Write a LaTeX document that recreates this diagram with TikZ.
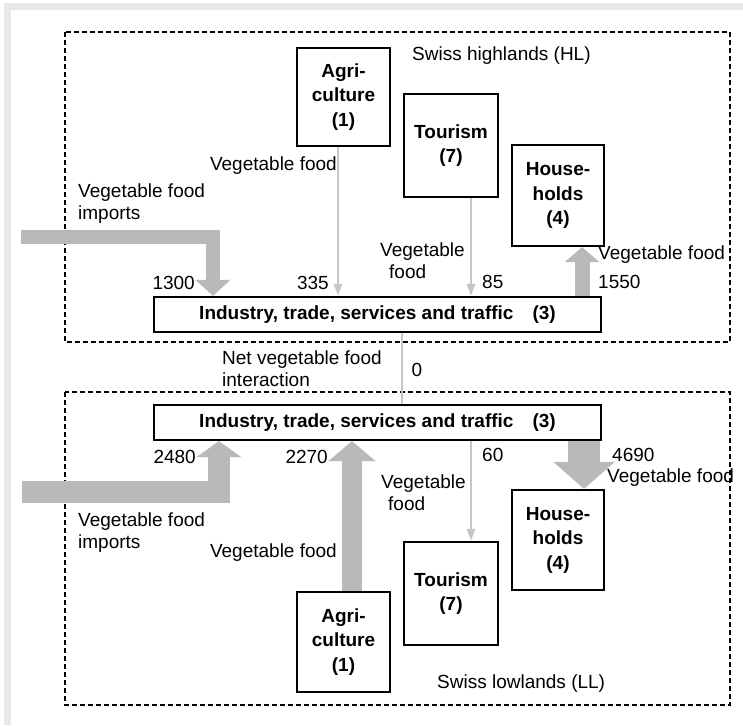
\documentclass[tikz,border=0pt]{standalone}
\usepackage{fontspec}
\setmainfont{Liberation Sans}
\usetikzlibrary{arrows.meta,calc}
\begin{document}
\begin{tikzpicture}[x=1pt,y=-1pt,
  box/.style={draw, line width=2.2pt, fill=white, align=center, inner sep=0pt,
    font=\bfseries\fontsize{19}{24.5}\selectfont},
  lbl/.style={inner sep=0pt, align=left, font=\fontsize{19}{22}\selectfont},
  region/.style={draw, line width=1.2pt, dash pattern=on 5pt off 3pt},
  flowline/.style={draw=gray!45, line width=2.5pt, -{Triangle[width=8pt,length=12pt]}},
  fat/.style n args={3}{draw=gray!55, line width=#1, line join=miter,
    -{Triangle[width=#2,length=#3]}}]
\useasboundingbox (0,0) rectangle (743,725);
\fill[white] (0,0) rectangle (743,725);
\fill[gray!18] (4,3) rectangle (743,10);
\fill[gray!18] (4,3) rectangle (11,725);

% regions
\draw[region] (65,32) rectangle (730,342);
\draw[region] (65,392) rectangle (730,705);

% highlands boxes
\node[box, minimum width=93pt, minimum height=98pt] (agriH) at (343.5,97) {Agri-\\culture\\(1)};
\node[box, minimum width=94pt, minimum height=103pt] (tourH) at (451,145.5) {Tourism\\(7)};
\node[box, minimum width=92pt, minimum height=101pt] (houseH) at (558,195.5) {House-\\holds\\(4)};
\node[box, minimum width=447pt, minimum height=35pt] (indH) at (377.5,314.5) {Industry, trade, services and traffic\hspace{1em}(3)};

% lowlands boxes
\node[box, minimum width=447pt, minimum height=35pt] (indL) at (377.5,422.5) {Industry, trade, services and traffic\hspace{1em}(3)};
\node[box, minimum width=92pt, minimum height=100pt] (houseL) at (558,540) {House-\\holds\\(4)};
\node[box, minimum width=94pt, minimum height=103pt] (tourL) at (451,593.5) {Tourism\\(7)};
\node[box, minimum width=93pt, minimum height=100pt] (agriL) at (343.5,642) {Agri-\\culture\\(1)};

% thin connectors
\coordinate (a1) at ([xshift=-5.5pt]agriH.south);
\draw[flowline] (a1) -- (a1 |- indH.north);
\coordinate (t1) at ([xshift=20pt]tourH.south);
\draw[flowline] (t1) -- (t1 |- indH.north);
\coordinate (n1) at ([xshift=24.5pt]indH.south);
\draw[flowline,-] (n1) -- (n1 |- indL.north);
\coordinate (t2) at ([xshift=20pt]tourL.north);
\draw[flowline] (t2 |- indL.south) -- (t2);

% fat connectors
\coordinate (impH) at (21,236.5);
\coordinate (impHx) at ([xshift=60pt]indH.north west);
\draw[fat={14pt}{34pt}{16pt}] (impH) -| (impHx);
\coordinate (hhu) at ([xshift=24pt]houseH.south);
\draw[fat={15pt}{34pt}{15pt}] (hhu |- indH.north) -- (hhu);
\coordinate (impL) at (22,492);
\coordinate (impLx) at ([xshift=66pt]indL.south west);
\draw[fat={22pt}{44pt}{16pt}] (impL) -| (impLx);
\coordinate (al) at ([xshift=8.5pt]agriL.north);
\draw[fat={20pt}{46pt}{20pt}] (al) -- (al |- indL.south);
\coordinate (hl) at ([xshift=26pt]houseL.north);
\draw[fat={32pt}{60pt}{27pt}] (hl |- indL.south) -- (hl);

% labels highlands
\node[lbl, anchor=west] (capH) at (412,56) {Swiss highlands (HL)};
\node[lbl, anchor=east] (vfA) at (337,166) {Vegetable food};
\node[lbl, anchor=east] (v335) at (329,283) {335};
\node[lbl, anchor=west] (vfT) at (380,261) {Vegetable\\\hspace*{9pt}food};
\node[lbl, anchor=west] (v85) at (482,282) {85};
\node[lbl, anchor=west] (vfHh) at (598,255) {Vegetable food};
\node[lbl, anchor=west] (v1550) at (598,282) {1550};
\node[lbl, anchor=west] (vfIH) at (78,204) {Vegetable food\\imports};
\node[lbl, anchor=east] (v1300) at (195,283) {1300};

% net
\node[lbl, anchor=west] (net) at (222,369) {Net vegetable food\\interaction};
\node[lbl] (v0) at (417,370) {0};

% labels lowlands
\node[lbl, anchor=east] (v2480) at (196,457) {2480};
\node[lbl, anchor=east] (v2270) at (328,457) {2270};
\node[lbl, anchor=west] (vfTL) at (381,493) {Vegetable\\\hspace*{7pt}food};
\node[lbl, anchor=west] (v60) at (482,455) {60};
\node[lbl, anchor=west] (v4690) at (612,455) {4690};
\node[lbl, anchor=west] (vfHL) at (607,478) {Vegetable food};
\node[lbl, anchor=west] (vfIL) at (78,533) {Vegetable food\\imports};
\node[lbl, anchor=east] (vfAL) at (337,553) {Vegetable food};
\node[lbl, anchor=west] (capL) at (437,684) {Swiss lowlands (LL)};
\end{tikzpicture}
\end{document}
